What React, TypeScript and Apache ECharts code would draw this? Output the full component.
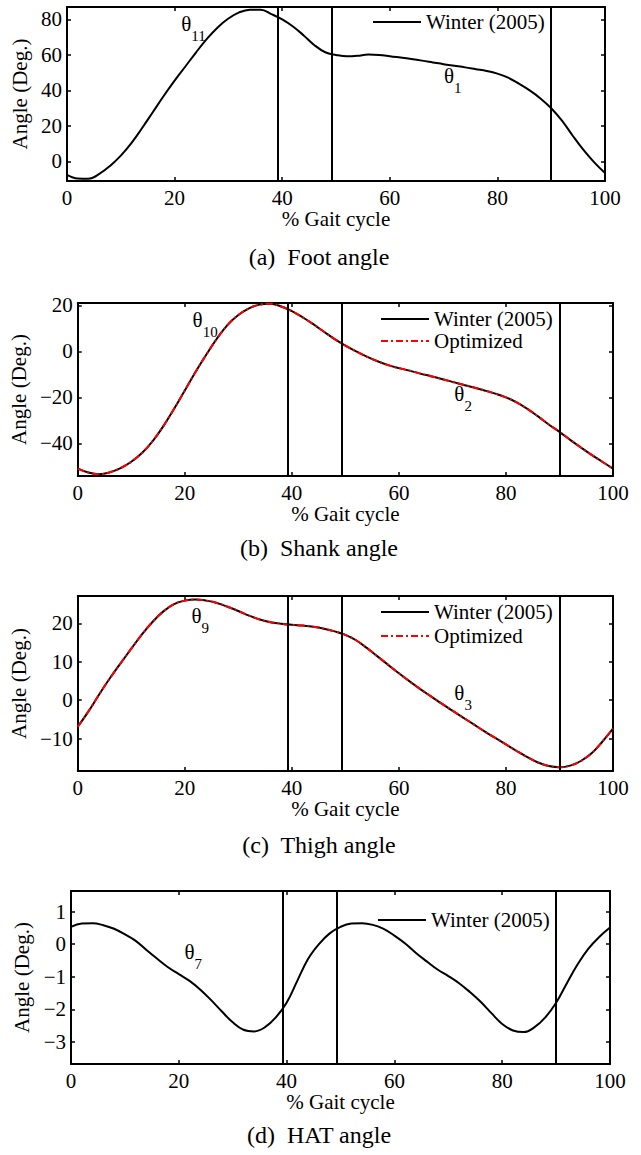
import React, { useEffect, useRef } from "react";
import * as echarts from "echarts";

const pct = [0, 2, 4, 6, 8, 10, 12, 14, 16, 18, 20, 22, 24, 26, 28, 30, 32, 34, 36, 38, 40, 42, 44, 46, 48, 50, 52, 54, 56, 58, 60, 62, 64, 66, 68, 70, 72, 74, 76, 78, 80, 82, 84, 86, 88, 90, 92, 94, 96, 98, 100];

const footWinter = [-7.5, -9.6, -9.7, -7, -2.5, 3.3, 10.5, 19, 28, 37, 45.5, 53.5, 61.5, 69, 75.5, 80.5, 84, 85.5, 85.5, 83, 80, 76, 71, 65.5, 61.5, 60, 59.2, 59.5, 60.2, 60, 59.3, 58.5, 57.7, 56.8, 55.8, 54.8, 53.9, 53, 52, 51, 49.5, 47.2, 43.8, 40, 35.5, 30, 23, 14.5, 6.5, -0.5, -6.5];

const shankWinter = [-51, -52.7, -53.4, -52.6, -50.8, -48, -44.2, -39, -32.5, -25, -17, -9, -1.5, 5.5, 11.5, 15.8, 18.7, 20.3, 20.7, 19.5, 17.5, 14.8, 11.8, 8.5, 5.3, 2.5, 0, -2.3, -4.3, -6, -7.3, -8.4, -9.7, -10.8, -12, -13.3, -14.5, -15.7, -17, -18.4, -20, -22.2, -25, -28.3, -31.8, -35, -38.5, -41.8, -45, -48, -51];
const shankOptimized = [-51, -52.7, -53.4, -52.6, -50.8, -48, -44.2, -39, -32.5, -25, -17, -9, -1.5, 5.5, 11.5, 15.8, 18.7, 20.3, 20.7, 19.5, 17.5, 14.8, 11.8, 8.5, 5.3, 2.5, 0, -2.3, -4.3, -6, -7.3, -8.4, -9.7, -10.8, -12, -13.3, -14.5, -15.7, -17, -18.4, -20, -22.2, -25, -28.3, -31.8, -35, -38.5, -41.8, -45, -48, -51];

const thighWinter = [-6.9, -2.9, 1.5, 5.7, 9.6, 13.4, 17.1, 20.4, 23.1, 25, 25.9, 26.2, 25.9, 25.3, 24.3, 23.2, 22, 21, 20.3, 19.9, 19.6, 19.4, 19.1, 18.6, 17.9, 17, 15.6, 13.6, 11.4, 9.2, 7, 4.9, 2.9, 1, -0.9, -2.7, -4.5, -6.3, -8.1, -9.8, -11.5, -13.2, -14.8, -16.2, -17.1, -17.4, -17, -15.8, -13.8, -10.8, -7.4];
const thighOptimized = [-6.9, -2.9, 1.5, 5.7, 9.6, 13.4, 17.1, 20.4, 23.1, 25, 25.9, 26.2, 25.9, 25.3, 24.3, 23.2, 22, 21, 20.3, 19.9, 19.6, 19.4, 19.1, 18.6, 17.9, 17, 15.6, 13.6, 11.4, 9.2, 7, 4.9, 2.9, 1, -0.9, -2.7, -4.5, -6.3, -8.1, -9.8, -11.5, -13.2, -14.8, -16.2, -17.1, -17.4, -17, -15.8, -13.8, -10.8, -7.4];

const hatWinter = [0.53, 0.63, 0.64, 0.58, 0.47, 0.3, 0.1, -0.18, -0.45, -0.71, -0.92, -1.13, -1.4, -1.72, -2.07, -2.4, -2.63, -2.68, -2.55, -2.25, -1.8, -1.12, -0.45, 0.0, 0.33, 0.53, 0.63, 0.64, 0.59, 0.47, 0.26, 0.02, -0.27, -0.53, -0.78, -0.98, -1.2, -1.47, -1.77, -2.12, -2.45, -2.65, -2.7, -2.55, -2.25, -1.8, -1.2, -0.62, -0.14, 0.22, 0.51];

const phaseLines = [39.2, 49.3, 90];
const footTicks = [0, 20, 40, 60, 80];
const shankTicks = [-40, -20, 0, 20];
const thighTicks = [-10, 0, 10, 20];
const hatTicks = [-3, -2, -1, 0, 1];

const captions = ["(a)  Foot angle", "(b)  Shank angle", "(c)  Thigh angle", "(d)  HAT angle"];
const WINTER = "Winter (2005)";
const OPT = "Optimized";

const FONT = "'Liberation Serif', 'Times New Roman', serif";

type Panel = {
  grid: { left: number; top: number; width: number; height: number };
  yMin: number;
  yMax: number;
  yTicks: number[];
  nameGap: number;
  winter: number[];
  optimized?: number[];
  labels: { coord: [number, number]; sub: string }[];
  legend: { left: number; top: number; gap: number };
  caption: string;
  captionY: number;
};

const panels: Panel[] = [
  {
    grid: { left: 67, top: 7, width: 538, height: 174 },
    yMin: -11, yMax: 87, yTicks: footTicks, nameGap: 32,
    winter: footWinter,
    labels: [{ coord: [23.5, 77.4], sub: "11" }, { coord: [71.7, 48.3], sub: "1" }],
    legend: { left: 372, top: 11, gap: 0 },
    caption: captions[0], captionY: 257,
  },
  {
    grid: { left: 74, top: 303, width: 539, height: 173 },
    yMin: -54.2, yMax: 21, yTicks: shankTicks, nameGap: 41,
    winter: shankWinter, optimized: shankOptimized,
    labels: [{ coord: [23.8, 13.4], sub: "10" }, { coord: [72, -18.4], sub: "2" }],
    legend: { left: 380, top: 308, gap: 0 },
    caption: captions[1], captionY: 548,
  },
  {
    grid: { left: 74, top: 596, width: 539, height: 175 },
    yMin: -18.4, yMax: 27.1, yTicks: thighTicks, nameGap: 41,
    winter: thighWinter, optimized: thighOptimized,
    labels: [{ coord: [22.9, 21.9], sub: "9" }, { coord: [72, 1.95], sub: "3" }],
    legend: { left: 380, top: 601, gap: 2 },
    caption: captions[2], captionY: 845,
  },
  {
    grid: { left: 71, top: 891, width: 539, height: 173 },
    yMin: -3.68, yMax: 1.63, yTicks: hatTicks, nameGap: 33,
    winter: hatWinter,
    labels: [{ coord: [22.7, -0.24], sub: "7" }],
    legend: { left: 377, top: 909, gap: 0 },
    caption: captions[3], captionY: 1135,
  },
];

const minus = (v: number) => String(v).replace("-", "\u2212");

export default function App() {
  const ref = useRef<HTMLDivElement>(null);
  useEffect(() => {
    if (!ref.current) return;
    const chart = echarts.init(ref.current, undefined, { renderer: "svg" });
    const axisLine = { show: true, onZero: false, lineStyle: { color: "#000", width: 2 } };
    const tick = { show: true, inside: true, length: 4, lineStyle: { color: "#000", width: 1.5 } };
    const grids: any[] = [];
    const xAxes: any[] = [];
    const yAxes: any[] = [];
    const series: any[] = [];
    const legends: any[] = [];
    const graphics: any[] = [];
    panels.forEach((p, i) => {
      grids.push({ ...p.grid, containLabel: false });
      xAxes.push({
        type: "value", gridIndex: i, min: 0, max: 100, interval: 20, position: "bottom",
        axisLine, axisTick: tick, splitLine: { show: false },
        axisLabel: { color: "#000", fontSize: 21, fontFamily: FONT, margin: 6 },
        name: "% Gait cycle", nameLocation: "middle", nameGap: 25,
        nameTextStyle: { color: "#000", fontSize: 21, fontFamily: FONT },
      });
      xAxes.push({
        type: "value", gridIndex: i, min: 0, max: 100, interval: 20, position: "top",
        axisLine, axisTick: tick, splitLine: { show: false }, axisLabel: { show: false },
      });
      yAxes.push({
        type: "value", gridIndex: i, min: p.yMin, max: p.yMax, position: "left",
        axisLine, axisTick: { ...tick, customValues: p.yTicks }, splitLine: { show: false },
        axisLabel: { color: "#000", fontSize: 21, fontFamily: FONT, margin: 5, customValues: p.yTicks, formatter: minus },
        name: "Angle (Deg.)", nameLocation: "middle", nameGap: p.nameGap, nameRotate: 90,
        nameTextStyle: { color: "#000", fontSize: 21, fontFamily: FONT },
      });
      yAxes.push({
        type: "value", gridIndex: i, min: p.yMin, max: p.yMax, position: "right",
        axisLine, axisTick: { ...tick, customValues: p.yTicks }, splitLine: { show: false },
        axisLabel: { show: false },
      });
      series.push({
        type: "line", name: WINTER, xAxisIndex: 2 * i, yAxisIndex: 2 * i,
        data: pct.map((x, k) => [x, p.winter[k]]),
        smooth: 0.4, symbol: "none", lineStyle: { color: "#000", width: 2 }, itemStyle: { color: "#000" },
        markLine: {
          silent: true, symbol: ["none", "none"], label: { show: false },
          lineStyle: { color: "#000", width: 2, type: "solid" },
          data: phaseLines.map((v) => ({ xAxis: v })),
        },
        markPoint: {
          silent: true, symbol: "circle", symbolSize: 1, itemStyle: { color: "rgba(0,0,0,0)" },
          label: {
            show: true, position: "inside", color: "#000",
            formatter: (d: any) => `{t|θ}{s|${d.name}}`,
            rich: {
              t: { fontSize: 21, fontFamily: FONT, color: "#000" },
              s: { fontSize: 15, fontFamily: FONT, color: "#000", padding: [24, 0, 0, 0] },
            },
          },
          data: p.labels.map((l) => ({ coord: l.coord, name: l.sub })),
        },
      });
      const legendData = [WINTER];
      if (p.optimized) {
        legendData.push(OPT);
        series.push({
          type: "line", name: OPT, xAxisIndex: 2 * i, yAxisIndex: 2 * i,
          data: pct.map((x, k) => [x, p.optimized![k]]),
          smooth: 0.4, symbol: "none",
          lineStyle: { color: "#ff0000", width: 2, type: [7, 3, 2, 3] }, itemStyle: { color: "#ff0000" },
        });
      }
      legends.push({
        data: legendData, left: p.legend.left, top: p.legend.top, orient: "vertical",
        itemGap: p.legend.gap, itemWidth: 48, itemHeight: 14, padding: 0, selectedMode: false,
        itemStyle: { opacity: 0, borderWidth: 0 },
        textStyle: { color: "#000", fontSize: 21, fontFamily: FONT, lineHeight: 22 },
      });
      graphics.push({
        type: "text", x: 319, y: p.captionY,
        style: { text: p.caption, fontSize: 24, fontFamily: FONT, fill: "#000", textAlign: "center", textVerticalAlign: "middle" },
      });
    });
    chart.setOption({
      animation: false,
      backgroundColor: "#fff",
      grid: grids,
      xAxis: xAxes,
      yAxis: yAxes,
      series,
      legend: legends,
      graphic: graphics,
    });
    return () => chart.dispose();
  }, []);
  return <div ref={ref} style={{ position: "fixed", left: 0, top: 0, width: 641, height: 1155 }} />;
}
